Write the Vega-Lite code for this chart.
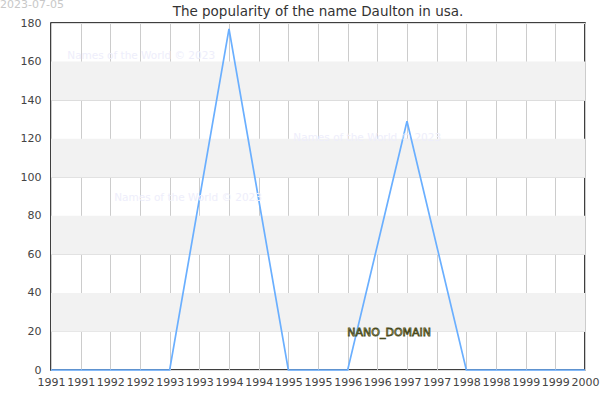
{
  "$schema": "https://vega.github.io/schema/vega-lite/v6.json",
  "width": 534,
  "height": 347,
  "autosize": "none",
  "padding": {"left": 51, "top": 23, "right": 15, "bottom": 30},
  "background": "white",
  "title": {
    "text": "The popularity of the name Daulton in usa.",
    "font": "DejaVu Sans",
    "fontSize": 13.5,
    "fontWeight": "normal",
    "color": "#333333",
    "anchor": "middle",
    "frame": "group",
    "offset": -19
  },
  "config": {
    "view": {"stroke": "black", "strokeWidth": 1.5},
    "axis": {
      "labelFont": "DejaVu Sans",
      "labelFontSize": 11,
      "labelColor": "#444444",
      "domain": false,
      "ticks": false,
      "title": null
    }
  },
  "datasets": {
    "counts": [
      {"year": 1991, "count": 0},
      {"year": 1992, "count": 0},
      {"year": 1993, "count": 0},
      {"year": 1994, "count": 177},
      {"year": 1995, "count": 0},
      {"year": 1996, "count": 0},
      {"year": 1997, "count": 129},
      {"year": 1998, "count": 0},
      {"year": 1999, "count": 0},
      {"year": 2000, "count": 0}
    ],
    "bands": [
      {"lo": 20, "hi": 40},
      {"lo": 60, "hi": 80},
      {"lo": 100, "hi": 120},
      {"lo": 140, "hi": 160}
    ],
    "marks": [
      {"year": 1992.52, "count": 163, "label": "Names of the World © 2023"},
      {"year": 1996.33, "count": 120.5, "label": "Names of the World © 2023"},
      {"year": 1993.31, "count": 89, "label": "Names of the World © 2023"}
    ]
  },
  "layer": [
    {
      "data": {"name": "bands"},
      "mark": {"type": "rect", "color": "#f2f2f2"},
      "encoding": {
        "y": {
          "field": "lo",
          "type": "quantitative",
          "scale": {"domain": [0, 180], "nice": false},
          "axis": {
            "values": [0, 20, 40, 60, 80, 100, 120, 140, 160, 180],
            "labelPadding": 10,
            "labelOverlap": false,
            "gridColor": "#dddddd",
            "gridWidth": 1
          }
        },
        "y2": {"field": "hi"}
      }
    },
    {
      "data": {"name": "counts"},
      "mark": {"type": "line", "color": "#6aafff", "strokeWidth": 1.7},
      "encoding": {
        "x": {
          "field": "year",
          "type": "quantitative",
          "scale": {"domain": [1991, 2000], "nice": false, "zero": false},
          "axis": {
            "values": [1991, 1991.5, 1992, 1992.5, 1993, 1993.5, 1994, 1994.5, 1995, 1995.5, 1996, 1996.5, 1997, 1997.5, 1998, 1998.5, 1999, 1999.5, 2000],
            "labelExpr": "floor(datum.value)",
            "labelPadding": 6,
            "labelOverlap": false,
            "labelFlush": false,
            "gridColor": "#cccccc",
            "gridWidth": 1
          }
        },
        "y": {
          "field": "count",
          "type": "quantitative",
          "scale": {"domain": [0, 180], "nice": false},
          "axis": {
            "values": [0, 20, 40, 60, 80, 100, 120, 140, 160, 180],
            "labelPadding": 10,
            "labelOverlap": false,
            "gridColor": "#dddddd",
            "gridWidth": 1
          }
        }
      }
    },
    {
      "data": {"name": "marks"},
      "mark": {"type": "text", "font": "DejaVu Sans", "fontSize": 10.5, "color": "#eeeefb", "align": "center", "baseline": "middle"},
      "encoding": {
        "x": {
          "field": "year",
          "type": "quantitative",
          "axis": {
            "values": [1991, 1991.5, 1992, 1992.5, 1993, 1993.5, 1994, 1994.5, 1995, 1995.5, 1996, 1996.5, 1997, 1997.5, 1998, 1998.5, 1999, 1999.5, 2000],
            "labelExpr": "floor(datum.value)",
            "labelPadding": 6,
            "labelOverlap": false,
            "labelFlush": false,
            "gridColor": "#cccccc",
            "gridWidth": 1
          }
        },
        "y": {
          "field": "count",
          "type": "quantitative",
          "axis": {
            "values": [0, 20, 40, 60, 80, 100, 120, 140, 160, 180],
            "labelPadding": 10,
            "labelOverlap": false,
            "gridColor": "#dddddd",
            "gridWidth": 1
          }
        },
        "text": {"field": "label"}
      }
    },
    {
      "data": {"values": [{"year": 1996.7, "count": 19.2, "label": "NANO_DOMAIN"}]},
      "mark": {"type": "text", "font": "DejaVu Sans", "fontSize": 11, "fill": "#e2e2a0", "stroke": "#4a4a20", "strokeWidth": 0.8, "align": "center", "baseline": "middle"},
      "encoding": {
        "x": {
          "field": "year",
          "type": "quantitative",
          "axis": {
            "values": [1991, 1991.5, 1992, 1992.5, 1993, 1993.5, 1994, 1994.5, 1995, 1995.5, 1996, 1996.5, 1997, 1997.5, 1998, 1998.5, 1999, 1999.5, 2000],
            "labelExpr": "floor(datum.value)",
            "labelPadding": 6,
            "labelOverlap": false,
            "labelFlush": false,
            "gridColor": "#cccccc",
            "gridWidth": 1
          }
        },
        "y": {
          "field": "count",
          "type": "quantitative",
          "axis": {
            "values": [0, 20, 40, 60, 80, 100, 120, 140, 160, 180],
            "labelPadding": 10,
            "labelOverlap": false,
            "gridColor": "#dddddd",
            "gridWidth": 1
          }
        },
        "text": {"field": "label"}
      }
    },
    {
      "data": {"values": [{"year": 1990.14, "count": 189.3, "label": "2023-07-05"}]},
      "mark": {"type": "text", "font": "DejaVu Sans", "fontSize": 11, "color": "#c8c8c8", "align": "left", "baseline": "middle", "clip": false},
      "encoding": {
        "x": {
          "field": "year",
          "type": "quantitative",
          "axis": {
            "values": [1991, 1991.5, 1992, 1992.5, 1993, 1993.5, 1994, 1994.5, 1995, 1995.5, 1996, 1996.5, 1997, 1997.5, 1998, 1998.5, 1999, 1999.5, 2000],
            "labelExpr": "floor(datum.value)",
            "labelPadding": 6,
            "labelOverlap": false,
            "labelFlush": false,
            "gridColor": "#cccccc",
            "gridWidth": 1
          }
        },
        "y": {
          "field": "count",
          "type": "quantitative",
          "axis": {
            "values": [0, 20, 40, 60, 80, 100, 120, 140, 160, 180],
            "labelPadding": 10,
            "labelOverlap": false,
            "gridColor": "#dddddd",
            "gridWidth": 1
          }
        },
        "text": {"field": "label"}
      }
    }
  ]
}
